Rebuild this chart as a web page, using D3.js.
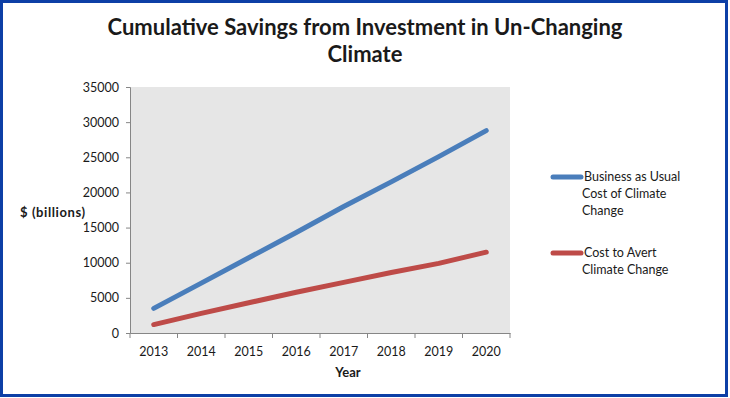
<!DOCTYPE html>
<html>
<head>
<meta charset="utf-8">
<script src="https://cdn.jsdelivr.net/npm/d3@7"></script>
<style>
  body { margin: 0; background: #fff; }
  text { font-family: Lato, "Open Sans", sans-serif; fill: #1a1a1a; }
</style>
</head>
<body>
<div id="chart"></div>
<script>
// chart data
const years = ["2013", "2014", "2015", "2016", "2017", "2018", "2019", "2020"];
const businessAsUsual = [3500, 7100, 10700, 14300, 18000, 21500, 25100, 28800];
const costToAvert = [1200, 2800, 4300, 5800, 7200, 8600, 9900, 11500];
const yTicks = [0, 5000, 10000, 15000, 20000, 25000, 30000, 35000];

const series = [
  {name: ["Business as Usual", "Cost of Climate", "Change"], values: businessAsUsual, colour: "#4a7ebb", legY: 177},
  {name: ["Cost to Avert", "Climate Change"], values: costToAvert, colour: "#be4b48", legY: 253}
];

const width = 730, height = 398;
const plot = {left: 130, right: 510, top: 87, bottom: 333};

const svg = d3.select("#chart").append("svg")
    .attr("width", width)
    .attr("height", height);

// outer frame
svg.append("rect")
    .attr("x", 1.5).attr("y", 1.5)
    .attr("width", 725).attr("height", 394)
    .attr("fill", "#fff")
    .attr("stroke", "#0d3fa6")
    .attr("stroke-width", 3);

// title
svg.append("g")
  .selectAll("text")
  .data(["Cumulative Savings from Investment in Un-Changing", "Climate"])
  .join("text")
    .attr("x", 365)
    .attr("y", (_, i) => 35 + i * 27)
    .attr("text-anchor", "middle")
    .style("font-size", "22px")
    .style("font-weight", "bold")
    .text(d => d);

const x = d3.scaleBand().domain(years).range([plot.left, plot.right]);
const y = d3.scaleLinear().domain([0, 35000]).range([plot.bottom, plot.top]);

// plot background
svg.append("rect")
    .attr("x", plot.left).attr("y", plot.top)
    .attr("width", plot.right - plot.left)
    .attr("height", plot.bottom - plot.top)
    .attr("fill", "#e6e6e6");

// y axis
const yAxis = svg.append("g")
    .attr("transform", `translate(${plot.left},0)`)
    .call(d3.axisLeft(y).tickValues(yTicks).tickSize(4).tickPadding(7).tickFormat(d3.format("d")));
yAxis.select(".domain").attr("stroke", "#868686");
yAxis.selectAll(".tick line").attr("stroke", "#868686");
yAxis.selectAll(".tick text").style("font-size", "12.5px").style("font-family", "Lato, sans-serif").attr("fill", "#1a1a1a");

// x axis, ticks on band edges
const xAxis = svg.append("g")
    .attr("transform", `translate(0,${plot.bottom})`)
    .call(d3.axisBottom(x).tickSize(0).tickPadding(14));
xAxis.select(".domain").attr("stroke", "#868686");
xAxis.selectAll(".tick text").style("font-size", "12.5px").style("font-family", "Lato, sans-serif").attr("fill", "#1a1a1a");
xAxis.selectAll(".edge")
  .data(d3.range(years.length + 1))
  .join("line")
    .attr("x1", i => plot.left + i * x.step())
    .attr("x2", i => plot.left + i * x.step())
    .attr("y1", 0).attr("y2", 5)
    .attr("stroke", "#868686");

// axis titles
svg.append("text")
    .attr("x", 20).attr("y", 217)
    .style("font-size", "13px").style("font-weight", "bold")
    .style("letter-spacing", "0.6px")
    .text("$ (billions)");
svg.append("text")
    .attr("x", 348).attr("y", 377)
    .attr("text-anchor", "middle")
    .style("font-size", "13px").style("font-weight", "bold")
    .text("Year");

// lines
const line = d3.line()
    .x((_, i) => x(years[i]) + x.bandwidth() / 2)
    .y(d => y(d));

svg.append("g")
  .selectAll("path")
  .data(series)
  .join("path")
    .attr("d", d => line(d.values))
    .attr("fill", "none")
    .attr("stroke", d => d.colour)
    .attr("stroke-width", 5)
    .attr("stroke-linecap", "round")
    .attr("stroke-linejoin", "round");

// legend
const leg = svg.append("g")
  .selectAll("g")
  .data(series)
  .join("g");

leg.append("line")
    .attr("x1", 553).attr("x2", 581)
    .attr("y1", d => d.legY).attr("y2", d => d.legY)
    .attr("stroke", d => d.colour)
    .attr("stroke-width", 5)
    .attr("stroke-linecap", "round");

leg.append("text")
    .attr("y", d => d.legY + 4)
    .style("font-size", "12.5px")
  .selectAll("tspan")
  .data(d => d.name)
  .join("tspan")
    .attr("x", (_, i) => i == 0 ? 584 : 582)
    .attr("dy", (_, i) => i == 0 ? 0 : 17)
    .text(d => d);
</script>
</body>
</html>
